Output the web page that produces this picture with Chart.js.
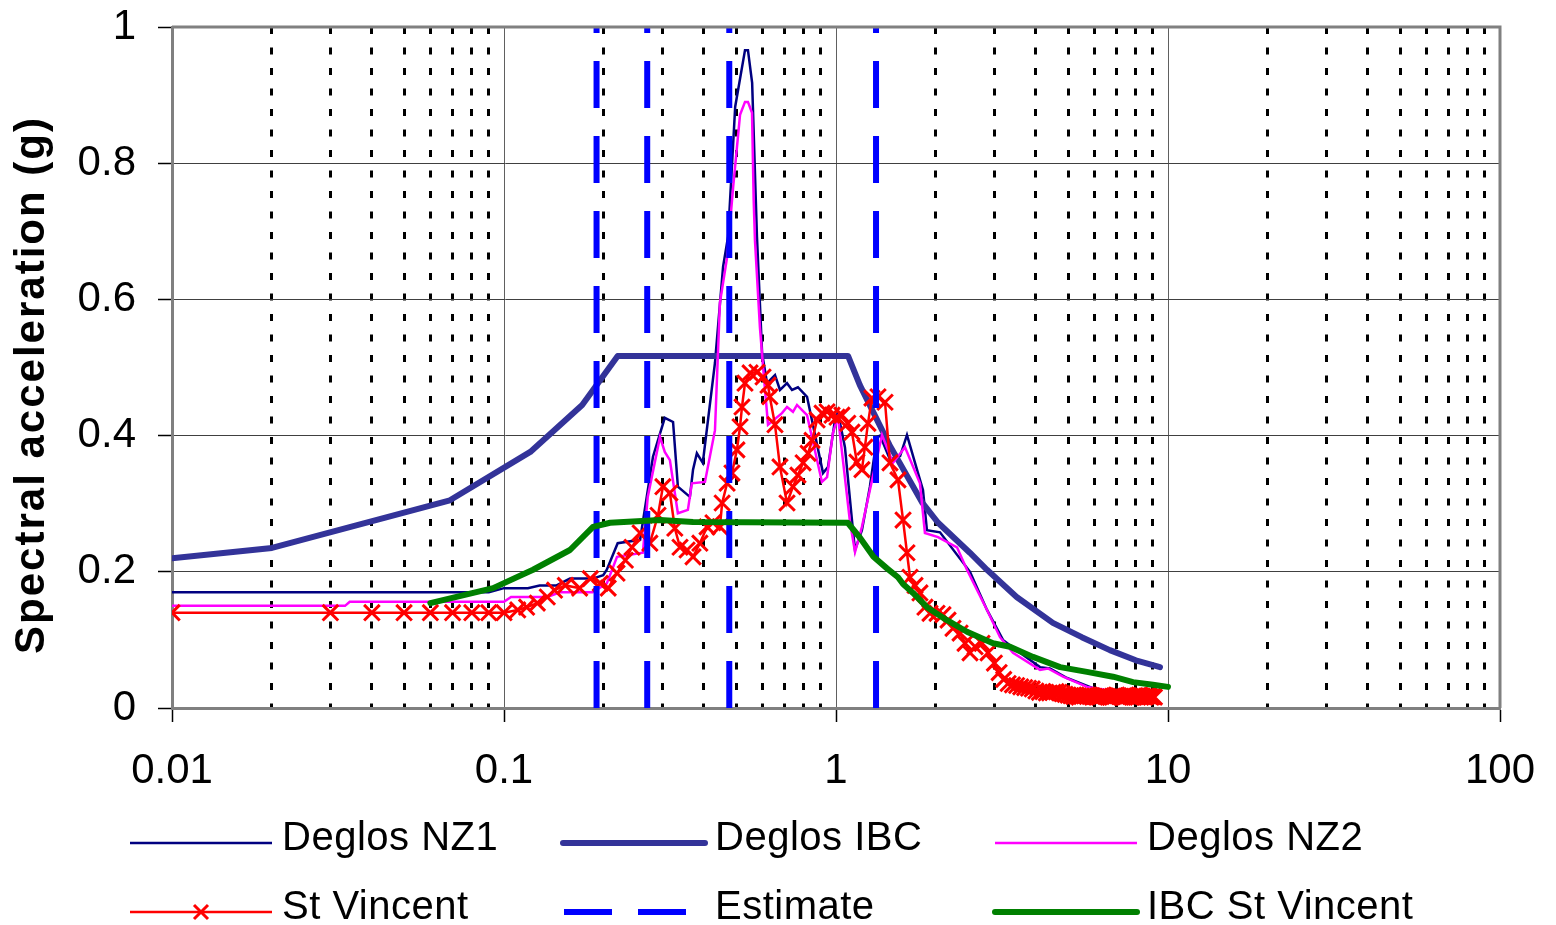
<!DOCTYPE html>
<html>
<head>
<meta charset="utf-8">
<title>Spectral acceleration</title>
<script src="https://cdn.jsdelivr.net/npm/chart.js@4.4.0/dist/chart.umd.min.js"></script>
<style>
  html, body { margin: 0; padding: 0; background: #fff; }
  #wrap { width: 1556px; height: 925px; }
</style>
</head>
<body>
<div id="wrap"><canvas id="myChart" width="1556" height="925"></canvas></div>
<script>
// axis ticks
const periodTicks = [
  0.01, 0.02, 0.03, 0.04, 0.05, 0.06, 0.07, 0.08, 0.09,
  0.1, 0.2, 0.3, 0.4, 0.5, 0.6, 0.7, 0.8, 0.9,
  1, 2, 3, 4, 5, 6, 7, 8, 9,
  10, 20, 30, 40, 50, 60, 70, 80, 90, 100,
];
const majorPeriods = [0.01, 0.1, 1, 10, 100];
const periodLabels = ["0.01", "0.1", "1", "10", "100"];
const accelTicks = [0, 0.2, 0.4, 0.6, 0.8, 1];
const accelLabels = ["0", "0.2", "0.4", "0.6", "0.8", "1"];

const seriesNames = ["Deglos NZ1", "Deglos IBC", "Deglos NZ2", "St Vincent", "Estimate", "IBC St Vincent"];

// [period (s), spectral acceleration (g)]
const deglosNZ1 = [
  [0.01, 0.17], [0.09, 0.17], [0.1, 0.176], [0.118, 0.176], [0.128, 0.18], [0.144, 0.18],
  [0.158, 0.19], [0.185, 0.19], [0.199, 0.195], [0.204, 0.203], [0.22, 0.242], [0.257, 0.247],
  [0.281, 0.369], [0.305, 0.426], [0.323, 0.42], [0.334, 0.325], [0.363, 0.31], [0.371, 0.35],
  [0.381, 0.374], [0.397, 0.36], [0.432, 0.507], [0.457, 0.648], [0.473, 0.692], [0.497, 0.883],
  [0.532, 0.966], [0.543, 0.966], [0.559, 0.918], [0.578, 0.692], [0.599, 0.521], [0.62, 0.477],
  [0.655, 0.489], [0.678, 0.467], [0.712, 0.477], [0.737, 0.467], [0.768, 0.471], [0.818, 0.457],
  [0.914, 0.345], [0.946, 0.354], [0.993, 0.423], [1.014, 0.433], [1.064, 0.383], [1.117, 0.276],
  [1.141, 0.232], [1.197, 0.261], [1.265, 0.325], [1.329, 0.398], [1.357, 0.4], [1.454, 0.365],
  [1.56, 0.37], [1.636, 0.401], [1.73, 0.36], [1.828, 0.32], [1.879, 0.261], [2.057, 0.258],
  [2.533, 0.2], [2.85, 0.144], [3.184, 0.1], [3.58, 0.081], [4.117, 0.06], [4.41, 0.058],
  [4.965, 0.044], [5.94, 0.029], [7.16, 0.022], [9.14, 0.02],
];
const deglosIBC = [
  [0.01, 0.22], [0.02, 0.235], [0.0687, 0.305], [0.12, 0.376], [0.172, 0.445], [0.22, 0.517],
  [1.087, 0.517], [1.18, 0.474], [1.45, 0.386], [1.816, 0.302], [2.03, 0.272], [2.53, 0.228],
  [2.85, 0.203], [3.5, 0.163], [4.5, 0.125], [5.5, 0.104], [6.68, 0.085], [8, 0.07], [9.46, 0.06],
];
const deglosNZ2 = [
  [0.01, 0.15], [0.0332, 0.15], [0.0343, 0.156], [0.1, 0.156], [0.105, 0.163], [0.135, 0.163],
  [0.1475, 0.17], [0.185, 0.17], [0.204, 0.183], [0.219, 0.222], [0.262, 0.228], [0.271, 0.31],
  [0.295, 0.398], [0.305, 0.376], [0.316, 0.364], [0.334, 0.286], [0.358, 0.291], [0.368, 0.33],
  [0.403, 0.332], [0.432, 0.408], [0.447, 0.595], [0.47, 0.662], [0.49, 0.765], [0.514, 0.871],
  [0.532, 0.89], [0.543, 0.89], [0.5585, 0.874], [0.565, 0.746], [0.57, 0.687], [0.59, 0.559],
  [0.603, 0.501], [0.624, 0.416], [0.6875, 0.433], [0.712, 0.442], [0.742, 0.435], [0.763, 0.445],
  [0.818, 0.43], [0.907, 0.332], [0.94, 0.339], [0.979, 0.404], [1.014, 0.427], [1.102, 0.273],
  [1.141, 0.229], [1.197, 0.266], [1.265, 0.32], [1.376, 0.401], [1.485, 0.36], [1.614, 0.383],
  [1.79, 0.33], [1.853, 0.257], [2.029, 0.251], [2.315, 0.236], [2.48, 0.203], [2.85, 0.144],
  [3.119, 0.104], [3.412, 0.081], [4.117, 0.056], [4.35, 0.058], [4.83, 0.046], [5.7, 0.031],
  [8.83, 0.016],
];
const stVincent = [
  [0.01, 0.14], [0.03, 0.14], [0.04, 0.14], [0.05, 0.14], [0.06, 0.14], [0.07, 0.14], [0.08, 0.14],
  [0.09, 0.14], [0.1, 0.14], [0.11, 0.144], [0.117, 0.148], [0.126, 0.154], [0.135, 0.163],
  [0.142, 0.173], [0.153, 0.18], [0.169, 0.176], [0.182, 0.19], [0.195, 0.183], [0.206, 0.176],
  [0.219, 0.198], [0.232, 0.217], [0.243, 0.236], [0.257, 0.257], [0.275, 0.242], [0.291, 0.283],
  [0.301, 0.325], [0.316, 0.316], [0.327, 0.264], [0.339, 0.236], [0.356, 0.232], [0.371, 0.222],
  [0.389, 0.242], [0.409, 0.266], [0.426, 0.272], [0.447, 0.266], [0.454, 0.301], [0.47, 0.33],
  [0.486, 0.345], [0.503, 0.379], [0.514, 0.413], [0.521, 0.442], [0.532, 0.477], [0.551, 0.492],
  [0.578, 0.493], [0.603, 0.486], [0.624, 0.474], [0.632, 0.457], [0.655, 0.416], [0.678, 0.354],
  [0.712, 0.301], [0.742, 0.325], [0.768, 0.342], [0.796, 0.36], [0.824, 0.374], [0.847, 0.393],
  [0.877, 0.423], [0.908, 0.433], [0.94, 0.435], [0.973, 0.43], [1.007, 0.427], [1.042, 0.43],
  [1.085, 0.418], [1.117, 0.405], [1.156, 0.361], [1.197, 0.35], [1.222, 0.383], [1.248, 0.418],
  [1.283, 0.455], [1.338, 0.457], [1.405, 0.449], [1.454, 0.36], [1.537, 0.335], [1.592, 0.276],
  [1.636, 0.228], [1.671, 0.192], [1.73, 0.18], [1.79, 0.169], [1.853, 0.148], [1.919, 0.139],
  [2.015, 0.139], [2.1, 0.137], [2.175, 0.129], [2.251, 0.117], [2.364, 0.11], [2.447, 0.095],
  [2.533, 0.081], [2.623, 0.09], [2.753, 0.095], [2.87, 0.081], [3.0, 0.066], [3.1, 0.052],
  [3.2, 0.042], [3.3, 0.036], [3.4, 0.034], [3.5, 0.033], [3.6, 0.031], [3.7, 0.03], [3.8, 0.029],
  [3.9, 0.028], [4.0, 0.025], [4.1, 0.023], [4.2, 0.024], [4.3, 0.022], [4.4, 0.022], [4.5, 0.023],
  [4.6, 0.024], [4.7, 0.023], [4.8, 0.021], [4.9, 0.02], [5.0, 0.019], [5.1, 0.018], [5.2, 0.017],
  [5.3, 0.017], [5.4, 0.016], [5.5, 0.017], [5.6, 0.018], [5.7, 0.019], [5.8, 0.019], [5.9, 0.018],
  [6.0, 0.017], [6.1, 0.016], [6.2, 0.016], [6.3, 0.017], [6.4, 0.018], [6.5, 0.017], [6.6, 0.016],
  [6.7, 0.016], [6.8, 0.017], [6.9, 0.018], [7.0, 0.019], [7.1, 0.018], [7.2, 0.017], [7.3, 0.016],
  [7.4, 0.016], [7.5, 0.017], [7.6, 0.018], [7.7, 0.017], [7.8, 0.016], [7.9, 0.016], [8.0, 0.017],
  [8.1, 0.018], [8.2, 0.019], [8.3, 0.018], [8.4, 0.017], [8.5, 0.016], [8.6, 0.017], [8.7, 0.018],
  [8.8, 0.017], [8.9, 0.016], [9.0, 0.017], [9.1, 0.016],
];
const estimatePeriods = [0.19, 0.27, 0.477, 1.32];
const ibcStVincent = [
  [0.06, 0.154], [0.0927, 0.176], [0.1223, 0.203], [0.1348, 0.214], [0.158, 0.232], [0.1854, 0.266],
  [0.2087, 0.272], [0.2951, 0.276], [0.371, 0.273], [1.085, 0.272], [1.181, 0.25], [1.297, 0.222],
  [1.424, 0.205], [1.537, 0.192], [1.592, 0.182], [1.706, 0.169], [1.879, 0.148], [2.159, 0.129],
  [2.48, 0.112], [2.971, 0.095], [3.343, 0.09], [3.92, 0.075], [4.73, 0.06], [5.7, 0.053],
  [6.83, 0.046], [7.85, 0.038], [9.01, 0.034], [10, 0.031],
];

const FONT = '"Liberation Sans", Arial, sans-serif';
Chart.defaults.font.family = FONT;

const pts = (arr) => arr.map(([x, y]) => ({ x, y }));
const estimateData = [];
estimatePeriods.forEach((t) => {
  estimateData.push({ x: t, y: accelTicks[0] }, { x: t, y: accelTicks[accelTicks.length - 1] }, { x: t, y: null });
});

const isMajor = (c) => !!c.tick && majorPeriods.includes(c.tick.value);

const decor = {
  id: "decor",
  afterDraw(chart) {
    const { ctx, chartArea } = chart;
    ctx.save();
    // top and right frame
    ctx.strokeStyle = "#808080";
    ctx.lineWidth = 3;
    ctx.beginPath();
    ctx.moveTo(chartArea.left, chartArea.top);
    ctx.lineTo(chartArea.right, chartArea.top);
    ctx.lineTo(chartArea.right, chartArea.bottom);
    ctx.stroke();

    // y title
    ctx.save();
    ctx.translate(32, 385);
    ctx.rotate(-Math.PI / 2);
    ctx.font = "bold 42px " + FONT;
    ctx.letterSpacing = "2px";
    ctx.fillStyle = "#000";
    ctx.textAlign = "center";
    ctx.textBaseline = "middle";
    ctx.fillText("Spectral acceleration (g)", 0, 0);
    ctx.restore();

    // legend, 3 columns x 2 rows
    const colX = [130, 563, 995];
    const rowY = [843, 912];
    ctx.font = "40px " + FONT;
    ctx.letterSpacing = "0.5px";
    ctx.textBaseline = "middle";
    ctx.textAlign = "left";
    chart.data.datasets.forEach((ds, i) => {
      const x0 = colX[i % 3];
      const y = rowY[Math.floor(i / 3)];
      ctx.save();
      ctx.strokeStyle = ds.borderColor;
      ctx.lineWidth = ds.borderWidth;
      ctx.lineCap = ds.borderWidth > 4 ? "round" : "butt";
      if (ds.borderDash) {
        ctx.lineCap = "butt";
        ctx.setLineDash([48, 26]);
      }
      ctx.beginPath();
      ctx.moveTo(ds.borderDash ? x0 + 1 : x0, y);
      ctx.lineTo(x0 + 142, y);
      ctx.stroke();
      ctx.setLineDash([]);
      if (ds.pointStyle === "crossRot") {
        const r = 7;
        const cx = x0 + 71;
        ctx.lineWidth = ds.pointBorderWidth;
        ctx.beginPath();
        ctx.moveTo(cx - r, y - r); ctx.lineTo(cx + r, y + r);
        ctx.moveTo(cx + r, y - r); ctx.lineTo(cx - r, y + r);
        ctx.stroke();
      }
      ctx.restore();
      ctx.fillStyle = "#000";
      ctx.fillText(ds.label, x0 + 152, y - 4);
    });
    ctx.restore();
  },
};

const ctx = document.getElementById("myChart");
new Chart(ctx, {
  type: "line",
  data: {
    datasets: [
      {
        label: seriesNames[0],
        data: pts(deglosNZ1),
        borderColor: "#000080",
        borderWidth: 2.5,
        pointRadius: 0,
        order: 6,
      },
      {
        label: seriesNames[1],
        data: pts(deglosIBC),
        borderColor: "#333399",
        borderWidth: 6,
        borderCapStyle: "round",
        borderJoinStyle: "round",
        pointRadius: 0,
        order: 5,
      },
      {
        label: seriesNames[2],
        data: pts(deglosNZ2),
        borderColor: "#FF00FF",
        borderWidth: 2.5,
        pointRadius: 0,
        order: 4,
      },
      {
        label: seriesNames[3],
        data: pts(stVincent),
        borderColor: "#FF0000",
        borderWidth: 2.5,
        pointStyle: "crossRot",
        pointRadius: 11,
        pointBorderWidth: 3,
        pointBorderColor: "#FF0000",
        pointBackgroundColor: "#FF0000",
        order: 3,
      },
      {
        label: seriesNames[4],
        data: estimateData,
        borderColor: "#0000FF",
        borderWidth: 6,
        borderDash: [47, 28],
        borderCapStyle: "butt",
        pointRadius: 0,
        spanGaps: false,
        order: 2,
      },
      {
        label: seriesNames[5],
        data: pts(ibcStVincent),
        borderColor: "#008000",
        borderWidth: 6,
        borderCapStyle: "round",
        borderJoinStyle: "round",
        pointRadius: 0,
        order: 1,
      },
    ],
  },
  options: {
    responsive: false,
    animation: false,
    events: [],
    layout: { padding: { top: 27, right: 56, left: 0, bottom: 0 } },
    plugins: {
      legend: { display: false },
      tooltip: { enabled: false },
    },
    scales: {
      x: {
        type: "logarithmic",
        min: 0.01,
        max: 100,
        afterBuildTicks: (scale) => {
          scale.ticks = periodTicks.map((v) => ({ value: v, major: majorPeriods.includes(v) }));
        },
        afterFit: (scale) => {
          scale.height = 217;
          scale.paddingRight = 0;
        },
        ticks: {
          autoSkip: false,
          maxRotation: 0,
          minRotation: 0,
          padding: 24,
          color: "#000",
          font: { size: 42 },
          callback: (value) => {
            const i = majorPeriods.indexOf(value);
            return i >= 0 ? periodLabels[i] : "";
          },
        },
        grid: {
          color: (c) => (isMajor(c) ? "#606060" : "#000"),
          lineWidth: (c) => (isMajor(c) ? 1 : 3),
          tickLength: 14,
          tickWidth: 1.5,
          tickColor: (c) => (isMajor(c) ? "#000" : "rgba(0,0,0,0)"),
        },
        border: {
          color: "#808080",
          width: 3,
          dash: (c) => (c.tick && !majorPeriods.includes(c.tick.value) ? [7, 13.5] : []),
        },
      },
      y: {
        type: "linear",
        min: 0,
        max: 1,
        afterBuildTicks: (scale) => {
          scale.ticks = accelTicks.map((v) => ({ value: v }));
        },
        afterFit: (scale) => {
          scale.width = 172;
          scale.paddingTop = 0;
          scale.paddingBottom = 0;
        },
        ticks: {
          padding: 22,
          color: "#000",
          font: { size: 42 },
          callback: (value, index) => accelLabels[index],
        },
        grid: {
          color: "#404040",
          lineWidth: 1,
          tickLength: 14,
          tickWidth: 1.5,
          tickColor: "#000",
        },
        border: { color: "#808080", width: 3 },
      },
    },
  },
  plugins: [decor],
});
</script>
</body>
</html>
